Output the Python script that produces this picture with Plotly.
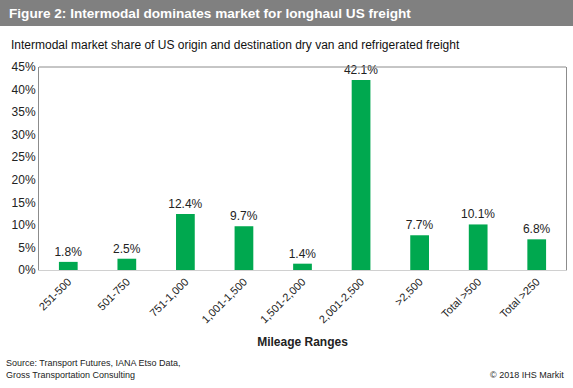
import plotly.graph_objects as go

categories = ["251-500", "501-750", "751-1,000", "1,001-1,500", "1,501-2,000",
              "2,001-2,500", ">2,500", "Total >500", "Total >250"]
shares = [1.8, 2.5, 12.4, 9.7, 1.4, 42.1, 7.7, 10.1, 6.8]
tick_vals = [0, 5, 10, 15, 20, 25, 30, 35, 40, 45]
tick_text = [f"{v}%" for v in tick_vals]

W, H = 573, 388
L, R, T, B = 39, 7, 67, 118
pw, ph = W - L - R, H - T - B

def px(x):
    return (x - L) / pw

def py(y):
    return (H - B - y) / ph

FONT = "Liberation Sans, Arial, sans-serif"

fig = go.Figure(go.Bar(
    x=categories, y=shares,
    marker=dict(color="#00A84F", line=dict(width=0)),
    text=[f"{v:.1f}%" for v in shares],
    textposition="outside",
    constraintext="none",
    textfont=dict(size=12, color="#222222", family=FONT),
    cliponaxis=False,
    hoverinfo="skip",
))

fig.update_layout(
    width=W, height=H,
    margin=dict(l=L, r=R, t=T, b=B, autoexpand=False),
    paper_bgcolor="white", plot_bgcolor="white",
    bargap=0.68,
    showlegend=False,
    font=dict(family=FONT, color="#222222"),
    xaxis=dict(
        tickangle=-45, tickfont=dict(size=11, color="#222222"),
        showline=True, linecolor="#D0D0D0", linewidth=1,
        ticks="", showgrid=False,
        title=dict(text="<b>Mileage Ranges</b>", font=dict(size=12, color="#222222"), standoff=13),
    ),
    yaxis=dict(
        range=[0, 45], tickvals=tick_vals, ticktext=tick_text,
        tickfont=dict(size=12, color="#222222"),
        showline=True, mirror=True, linecolor="#8C8C8C", linewidth=1,
        showgrid=False, zeroline=False, ticks="",
    ),
    shapes=[
        dict(type="rect", xref="paper", yref="paper", x0=px(0), x1=px(W), y0=py(26), y1=py(0),
             fillcolor="#808080", line=dict(width=0), layer="below"),
        dict(type="line", xref="paper", yref="paper", x0=0, x1=1, y0=1, y1=1,
             line=dict(color="#8C8C8C", width=1)),
    ],
    annotations=[
        dict(xref="paper", yref="paper", x=px(7), y=py(13), xanchor="left", yanchor="middle",
             text="<b>Figure 2: Intermodal dominates market for longhaul US freight</b>",
             showarrow=False, font=dict(size=13.6, color="white", family=FONT)),
        dict(xref="paper", yref="paper", x=px(9), y=py(45), xanchor="left", yanchor="middle",
             text="Intermodal market share of US origin and destination dry van and refrigerated freight",
             showarrow=False, font=dict(size=12, color="#111111", family=FONT)),
        dict(xref="paper", yref="paper", x=px(4), y=py(369), xanchor="left", yanchor="middle",
             text="Source: Transport Futures, IANA Etso Data,<br>Gross Transportation Consulting",
             showarrow=False, align="left", font=dict(size=9, color="#222222", family=FONT)),
        dict(xref="paper", yref="paper", x=px(566), y=py(375), xanchor="right", yanchor="middle",
             text="© 2018 IHS Markit",
             showarrow=False, font=dict(size=9, color="#222222", family=FONT)),
    ],
)

fig.write_html("out.html", config={"displayModeBar": False},
               post_script="document.body.style.margin='0';")
